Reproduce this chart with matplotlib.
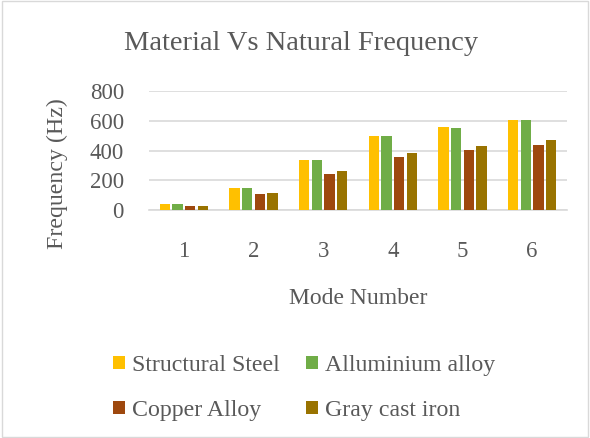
import matplotlib
matplotlib.use("Agg")
import matplotlib.pyplot as plt
import numpy as np
from matplotlib.patches import Rectangle

plt.rcParams["font.family"] = ["Liberation Serif", "DejaVu Serif"]

modes = ["1", "2", "3", "4", "5", "6"]
structural_steel = [40, 150, 339, 498, 558, 608]
aluminium_alloy = [40, 150, 339, 498, 554, 608]
copper_alloy = [25, 108, 244, 356, 401, 437]
gray_cast_iron = [29, 114, 262, 386, 433, 469]

series = [
    ("Structural Steel", structural_steel, "#FFC000"),
    ("Alluminium alloy", aluminium_alloy, "#70AD47"),
    ("Copper Alloy", copper_alloy, "#9E480E"),
    ("Gray cast iron", gray_cast_iron, "#997300"),
]

TXT = "#595959"

fig = plt.figure(figsize=(5.9, 4.38), dpi=100)
ax = fig.add_axes([0.2525, 0.5205, 0.7085, 0.2715])

x = np.arange(len(modes))
pitch, w = 0.182, 0.15
bars = []
for i, (name, vals, col) in enumerate(series):
    b = ax.bar(x + (i - 1.5) * pitch, vals, w, color=col, label=name,
               edgecolor="none", zorder=3)
    bars.append(b)

ax.set_xlim(-0.5, len(modes) - 0.5)
ax.set_ylim(0, 800)
ax.set_yticks([0, 200, 400, 600, 800])
ax.set_xticks(x)
ax.set_xticklabels(modes)
ax.yaxis.grid(True, color="#D9D9D9", lw=1.2, zorder=0)
for s in ["top", "right", "left"]:
    ax.spines[s].set_visible(False)
ax.spines["bottom"].set_color("#D9D9D9")
ax.spines["bottom"].set_linewidth(1.2)
ax.tick_params(length=0, labelsize=16.5, colors=TXT)
ax.tick_params(axis="x", pad=22)
ax.tick_params(axis="y", pad=18)

# axis titles placed like Excel does (centred on plot area incl. labels)
fig.text(57 / 590, 1 - 174 / 438, "Frequency (Hz)", rotation=90, ha="center",
         va="center", fontsize=17.2, color=TXT)
fig.text(358 / 590, 1 - 298 / 438, "Mode Number", ha="center", va="center",
         fontsize=17, color=TXT)
fig.text(0.51, 0.9, "Material Vs Natural Frequency", ha="center", va="center",
         fontsize=20.5, color=TXT)

# row-major legend order: SS, Al / Cu, Gray
order = [0, 2, 1, 3]
fig.legend([bars[k] for k in order], [series[k][0] for k in order],
           loc="center", bbox_to_anchor=(0.515, 0.114), ncol=2,
           frameon=False, fontsize=17.2, labelcolor=TXT, handlelength=0.5,
           handleheight=0.5, handletextpad=0.3, columnspacing=1.1,
           labelspacing=1.0)

fig.patches.append(Rectangle((0.003, 0.003), 0.994, 0.994, transform=fig.transFigure,
                             fill=False, ec="#D9D9D9", lw=1))

fig.savefig("out.png", dpi=100, facecolor="white")
